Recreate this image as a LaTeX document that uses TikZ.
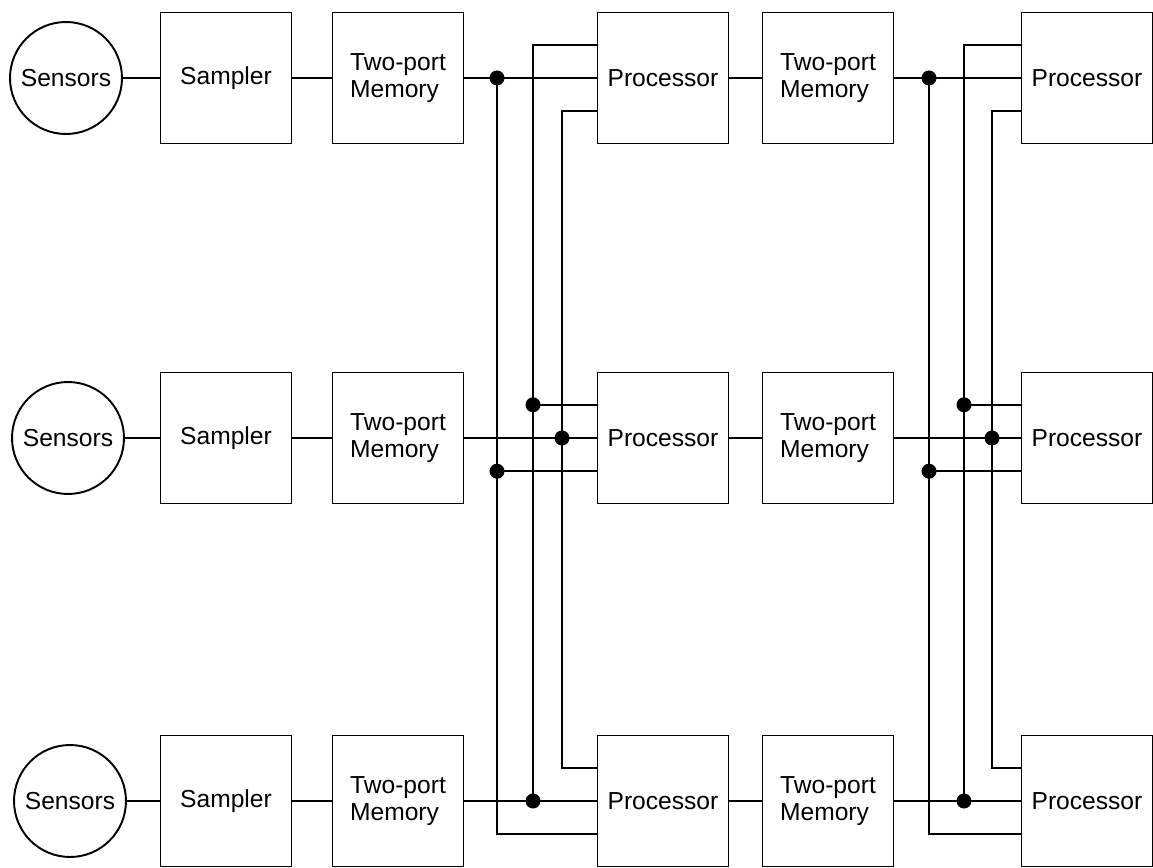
\documentclass[tikz,border=0pt]{standalone}
\usepackage{fontspec}
\setmainfont{Liberation Sans}
\usetikzlibrary{calc}

\tikzset{
  blk/.style={draw, minimum width=2.62cm, minimum height=2.62cm, inner sep=2pt, align=left},
  sensor/.style={draw, circle, minimum size=2.24cm, inner sep=0pt}
}

\begin{document}
\begin{tikzpicture}[x=0.02cm, y=-0.02cm, line width=1.1pt, font=\fontsize{14}{15.5}\selectfont]
\useasboundingbox (0,0) rectangle (1153,868);
% row 1
\node[sensor] (sen1) at (66,78) {Sensors};
\node[blk] (smp1) at (226,78) {Sampler};
\node[blk] (mem1) at (398,78) {Two-port\\Memory};
\node[blk] (pra1) at (663,78) {Processor};
\node[blk] (mema1) at (828,78) {Two-port\\Memory};
\node[blk] (prb1) at (1087,78) {Processor};
% row 2
\node[sensor] (sen2) at (68,438) {Sensors};
\node[blk] (smp2) at (226,438) {Sampler};
\node[blk] (mem2) at (398,438) {Two-port\\Memory};
\node[blk] (pra2) at (663,438) {Processor};
\node[blk] (mema2) at (828,438) {Two-port\\Memory};
\node[blk] (prb2) at (1087,438) {Processor};
% row 3
\node[sensor] (sen3) at (70,801) {Sensors};
\node[blk] (smp3) at (226,801) {Sampler};
\node[blk] (mem3) at (398,801) {Two-port\\Memory};
\node[blk] (pra3) at (663,801) {Processor};
\node[blk] (mema3) at (828,801) {Two-port\\Memory};
\node[blk] (prb3) at (1087,801) {Processor};

\draw (sen1) -- (smp1) -- (mem1) -- (pra1) -- (mema1) -- (prb1);
\draw (sen2) -- (smp2) -- (mem2) -- (pra2) -- (mema2) -- (prb2);
\draw (sen3) -- (smp3) -- (mem3) -- (pra3) -- (mema3) -- (prb3);

% processor inputs, upper and lower
\coordinate (pa1t) at ($(pra1.north west)!0.25!(pra1.south west)$);
\coordinate (pa1b) at ($(pra1.north west)!0.75!(pra1.south west)$);
\coordinate (pa2t) at ($(pra2.north west)!0.25!(pra2.south west)$);
\coordinate (pa2b) at ($(pra2.north west)!0.75!(pra2.south west)$);
\coordinate (pa3t) at ($(pra3.north west)!0.25!(pra3.south west)$);
\coordinate (pa3b) at ($(pra3.north west)!0.75!(pra3.south west)$);
\coordinate (pb1t) at ($(prb1.north west)!0.25!(prb1.south west)$);
\coordinate (pb1b) at ($(prb1.north west)!0.75!(prb1.south west)$);
\coordinate (pb2t) at ($(prb2.north west)!0.25!(prb2.south west)$);
\coordinate (pb2b) at ($(prb2.north west)!0.75!(prb2.south west)$);
\coordinate (pb3t) at ($(prb3.north west)!0.25!(prb3.south west)$);
\coordinate (pb3b) at ($(prb3.north west)!0.75!(prb3.south west)$);

% first crossbar
\coordinate (ja1) at (497,78); \coordinate (ja2) at (533,801); \coordinate (ja3) at (562,438);
\draw (ja1) |- (pa3b);
\draw (ja1 |- pa2b) -- (pa2b);
\draw (pa1t) -| (ja2);
\draw (ja2 |- pa2t) -- (pa2t);
\draw (pa1b) -| (ja3) |- (pa3t);
\fill (ja1) circle (7.5); \fill (ja1 |- pa2b) circle (7.5);
\fill (ja2) circle (7.5); \fill (ja2 |- pa2t) circle (7.5);
\fill (ja3) circle (7.5);

% second crossbar
\coordinate (jb1) at (929,78); \coordinate (jb2) at (964,801); \coordinate (jb3) at (992,438);
\draw (jb1) |- (pb3b);
\draw (jb1 |- pb2b) -- (pb2b);
\draw (pb1t) -| (jb2);
\draw (jb2 |- pb2t) -- (pb2t);
\draw (pb1b) -| (jb3) |- (pb3t);
\fill (jb1) circle (7.5); \fill (jb1 |- pb2b) circle (7.5);
\fill (jb2) circle (7.5); \fill (jb2 |- pb2t) circle (7.5);
\fill (jb3) circle (7.5);
\end{tikzpicture}
\end{document}
